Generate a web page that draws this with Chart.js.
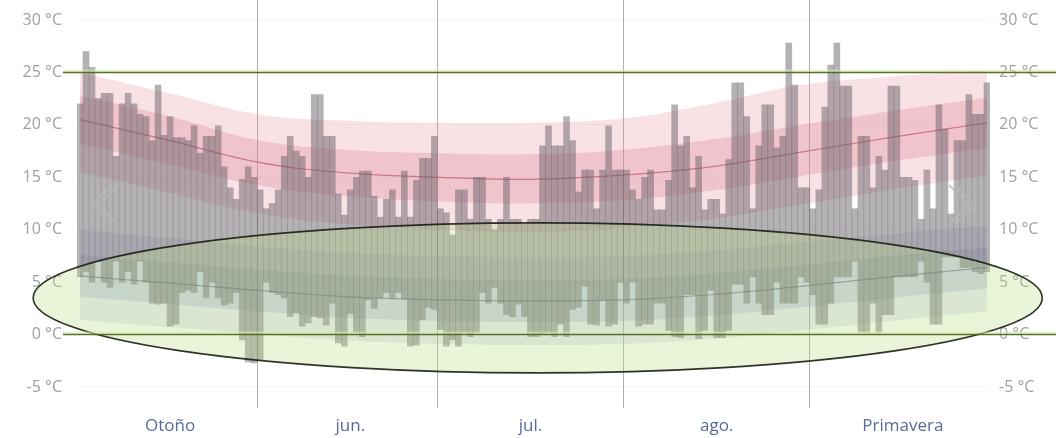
<!DOCTYPE html>
<html>
<head>
<meta charset="utf-8">
<script src="https://cdn.jsdelivr.net/npm/chart.js@4"></script>
<style>
  body { margin: 0; background: #fff; }
  #wrap { width: 1056px; height: 438px; }
</style>
</head>
<body>
<div id="wrap"><canvas id="chartTemp"></canvas></div>
<script>
// días del 2 de mayo al 30 de septiembre
var dias = [];
for (var d = new Date(2023, 4, 2); d <= new Date(2023, 8, 30); d.setDate(d.getDate() + 1)) {
  dias.push(d.getDate() + '/' + (d.getMonth() + 1));
}

var etiquetasMes = ['Otoño', 'jun.', 'jul.', 'ago.', 'Primavera'];
var posEtiquetaMes = [15, 45, 75, 106, 137];
var inicioMes = [30, 60, 91, 122];
var ticksY = [-5, 0, 5, 10, 15, 20, 25, 30];

// máximas y mínimas diarias (°C)
var maximas = [
  22, 27, 25.5, 22.5, 23, 23, 17, 22, 23, 22,
  21, 20.8, 18.5, 23.8, 19, 20.8, 18.8, 18.8, 18.5, 19.9,
  17.3, 18.9, 18.9, 19.9, 16, 14, 12.9, 14.8, 16, 15,
  13.8, 12, 12.5, 13.8, 17, 18.9, 17.5, 17, 15, 22.9,
  22.9, 18.9, 18.9, 13.4, 11.4, 13.8, 15, 15.6, 15.6, 13.2,
  11.2, 12.9, 13.8, 11.2, 15.6, 11.2, 14.7, 16.8, 16.8, 18.9,
  12, 11.6, 9.5, 13.8, 13.8, 11, 15, 15, 11, 10,
  11, 15, 11, 11, 10.5, 11, 11, 18, 19.9, 18,
  18, 20.8, 18.5, 13.6, 15.7, 15.7, 12, 15.7, 19.9, 15.7,
  15.7, 15.7, 13.8, 12.9, 15, 15.7, 11.9, 11.9, 14.7, 21.9,
  18, 18.9, 14, 17, 11.9, 12.9, 12.9, 11.5, 16.7, 24,
  24, 20.8, 12, 18, 21.9, 21.9, 17.8, 18.9, 27.8, 23.8,
  14, 14, 12, 13.8, 21.7, 25.7, 27.8, 23.7, 23.7, 12,
  18.9, 18.9, 14, 17, 15.7, 23.7, 23.7, 15, 15, 14.7,
  11, 15.7, 12, 21.9, 19.6, 11.5, 18.5, 18.5, 22.9, 21,
  21, 24
];
var minimas = [
  5.5, 6, 5, 7, 5, 4.5, 7, 5, 6, 4.8,
  7, 5, 3, 2.9, 3, 0.8, 1, 4, 4.2, 4,
  6, 3.5, 5, 3.5, 2.8, 3, 4, -0.5, -2.6, -2.7,
  -2.4, 5, 4, 3.8, 3.5, 1.7, 2.1, 0.8, 1.1, 1.7,
  1.6, 0.9, 3, -0.8, -1.1, 2, 0.2, -0.2, 3.3, 2.5,
  3.5, 4, 3.5, 4, 3.4, -1.1, -1, 1.4, 2.6, 2.4,
  0.5, -1.1, -0.5, -1.1, 0.2, -0.2, 0.2, 4, 3, 4.5,
  3, 1.9, 1.7, 2.9, 1.7, -0.2, -0.2, 0, 0.2, -0.2,
  1, -0.2, 2.4, 2.6, 4.6, 1, 0.9, 3.3, 0.8, 1,
  5, 3, 5, 0.8, 1, 1, 3, 3, 0.4, -0.2,
  -0.3, 3.8, 3.8, -0.4, 0.4, 4.2, -0.3, -0.3, 0.4, 4.8,
  4.8, 3, 5.5, 3, 1.9, 1.9, 5, 3, 3, 3,
  5.5, 5, 3.8, 1, 1, 3, 5.5, 5.5, 5.5, 7,
  0.2, 0.2, 3, 0.2, 1.9, 1.9, 5.5, 5.5, 5.5, 5.5,
  7, 5, 1, 1, 7.4, 7.4, 7.4, 6.4, 6.4, 6,
  5.8, 6
];

// bandas climáticas, leídas cada 15 días
var diasBanda = [0, 15, 30, 45, 60, 75, 90, 105, 120, 135, 151];
var maxExtSup = [25, 23, 21, 20.4, 20.2, 20.2, 20.6, 22, 23.8, 24.6, 25.2];
var maxIntSup = [22.8, 20.8, 18.5, 17.6, 17.3, 17.2, 17.6, 18.6, 20, 21.3, 22.6];
var maxMedia  = [20.5, 18.5, 16.4, 15.4, 15, 14.8, 15.2, 16, 17.4, 18.8, 20.2];
var maxIntInf = [18.2, 16.2, 14.2, 13.2, 12.7, 12.5, 12.8, 13.7, 15.1, 16.5, 17.8];
var maxExtInf = [15.5, 13.5, 11.5, 10.5, 10, 9.8, 10.2, 11, 12.4, 13.8, 15.2];
var minExtSup = [10, 9.2, 8.4, 7.8, 7.5, 7.4, 7.5, 8, 8.8, 9.6, 10.4];
var minIntSup = [7.6, 6.9, 6.2, 5.6, 5.3, 5.2, 5.3, 5.8, 6.6, 7.5, 8.3];
var minMedia  = [5.6, 4.9, 4.2, 3.6, 3.3, 3.2, 3.3, 3.8, 4.6, 5.5, 6.4];
var minIntInf = [3.6, 2.9, 2.2, 1.6, 1.3, 1.2, 1.3, 1.8, 2.6, 3.5, 4.4];
var minExtInf = [1.4, 0.7, 0, -0.6, -0.9, -1, -0.9, -0.4, 0.4, 1.3, 2.2];

var lineasRef = [25, 0];
var elipse = { diaCentro: 76.2, mediaDias: 84, tempCentro: 3.5, mediaTemp: 7.15 };

function banda(valores) {
  return valores.map(function (v, i) { return { x: dias[diasBanda[i]], y: v }; });
}
function capaBanda(valores, relleno, color, orden) {
  return {
    type: 'line', data: banda(valores),
    borderWidth: 0, pointRadius: 0, tension: 0.4,
    fill: relleno, backgroundColor: color, order: orden
  };
}
function sinRelleno(s) { s.paddingTop = 0; s.paddingBottom = 0; }

var overlay = {
  id: 'overlay',
  afterDatasetsDraw: function (chart) {
    var ctx = chart.ctx, x = chart.scales.x, y = chart.scales.y, area = chart.chartArea;
    var cx = x.getPixelForValue(elipse.diaCentro);
    var rx = x.getPixelForValue(elipse.diaCentro + elipse.mediaDias) - cx;
    var cy = y.getPixelForValue(elipse.tempCentro);
    var ry = y.getPixelForValue(elipse.tempCentro - elipse.mediaTemp) - cy;
    ctx.save();
    ctx.beginPath();
    ctx.ellipse(cx, cy, rx, ry, 0, 0, 2 * Math.PI);
    ctx.fillStyle = 'rgba(185,220,130,0.30)';
    ctx.fill();
    ctx.lineWidth = 1.6;
    ctx.strokeStyle = 'rgba(25,30,20,0.9)';
    ctx.stroke();

    lineasRef.forEach(function (v) {
      var py = y.getPixelForValue(v);
      ctx.beginPath();
      ctx.moveTo(area.left - 14, py - 1.5);
      ctx.lineTo(chart.width, py - 1.5);
      ctx.lineWidth = 3;
      ctx.strokeStyle = 'rgba(215,240,170,0.55)';
      ctx.stroke();
      ctx.beginPath();
      ctx.moveTo(area.left - 14, py);
      ctx.lineTo(chart.width, py);
      ctx.lineWidth = 1.4;
      ctx.strokeStyle = 'rgba(75,95,35,0.9)';
      ctx.stroke();
    });

    // flechas del carrusel
    ctx.lineWidth = 2;
    ctx.strokeStyle = 'rgba(185,185,185,0.75)';
    [[112, 92], [955, 975]].forEach(function (f) {
      [0, 6].forEach(function (o) {
        var s = f[1] > f[0] ? -o : o;
        ctx.beginPath();
        ctx.moveTo(f[0] + s, 185);
        ctx.lineTo(f[1] + s, 205);
        ctx.lineTo(f[0] + s, 225);
        ctx.stroke();
      });
    });
    ctx.restore();
  }
};

var ctxTemp = document.getElementById('chartTemp').getContext('2d');
var configTemp = {
  type: 'bar',
  data: {
    labels: dias,
    datasets: [
      {
        type: 'bar',
        label: 'Temperatura diaria',
        data: maximas.map(function (m, i) { return [minimas[i], m]; }),
        backgroundColor: 'rgba(100,95,100,0.48)',
        barPercentage: 1,
        categoryPercentage: 1,
        grouped: false,
        order: 0
      },
      capaBanda(maxExtSup, '+1', 'rgba(235,150,165,0.28)', 10),
      capaBanda(maxExtInf, false, 'transparent', 10),
      capaBanda(maxIntSup, '+1', 'rgba(220,120,140,0.28)', 9),
      capaBanda(maxIntInf, false, 'transparent', 9),
      {
        type: 'line', data: banda(maxMedia), order: 8,
        borderColor: 'rgba(170,60,75,0.55)', borderWidth: 1.2, pointRadius: 0, tension: 0.4, fill: false
      },
      capaBanda(minExtSup, '+1', 'rgba(150,160,210,0.22)', 10),
      capaBanda(minExtInf, false, 'transparent', 10),
      capaBanda(minIntSup, '+1', 'rgba(120,130,195,0.22)', 9),
      capaBanda(minIntInf, false, 'transparent', 9),
      {
        type: 'line', data: banda(minMedia), order: 8,
        borderColor: 'rgba(60,65,110,0.5)', borderWidth: 1.2, pointRadius: 0, tension: 0.4, fill: false
      }
    ]
  },
  options: {
    responsive: true,
    maintainAspectRatio: false,
    animation: false,
    layout: { padding: 0 },
    datasets: { bar: { barPercentage: 1, categoryPercentage: 1 } },
    plugins: { legend: { display: false }, tooltip: { enabled: false } },
    scales: {
      x: {
        type: 'category',
        offset: true,
        border: { display: false },
        afterFit: function (s) { s.height = 38; s.paddingLeft = 0; s.paddingRight = 0; },
        grid: {
          offset: true,
          tickLength: 8,
          lineWidth: 1,
          color: function (c) { return inicioMes.indexOf(c.index) >= 0 ? 'rgba(150,150,150,0.75)' : 'rgba(0,0,0,0)'; }
        },
        ticks: {
          autoSkip: false,
          maxRotation: 0,
          padding: 8,
          color: '#5a6a9c',
          font: { family: 'Open Sans', size: 17 },
          callback: function (v, i) {
            var k = posEtiquetaMes.indexOf(i);
            return k >= 0 ? etiquetasMes[k] : '';
          }
        }
      },
      y: {
        position: 'left',
        min: -6.24,
        max: 31.91,
        border: { display: false },
        grid: { color: 'rgba(0,0,0,0.04)', drawTicks: false },
        afterBuildTicks: function (s) { s.ticks = ticksY.map(function (v) { return { value: v }; }); },
        afterFit: function (s) { s.width = 77; sinRelleno(s); },
        ticks: {
          padding: 15,
          color: '#a0a0a0',
          font: { family: 'Open Sans', size: 16 },
          callback: function (v) { return v + ' °C'; }
        }
      },
      y2: {
        position: 'right',
        min: -6.24,
        max: 31.91,
        border: { display: false },
        grid: { display: false, drawTicks: false },
        afterBuildTicks: function (s) { s.ticks = ticksY.map(function (v) { return { value: v }; }); },
        afterFit: function (s) { s.width = 66; sinRelleno(s); },
        ticks: {
          padding: 9,
          color: '#a0a0a0',
          font: { family: 'Open Sans', size: 16 },
          callback: function (v) { return v + ' °C'; }
        }
      }
    }
  },
  plugins: [overlay]
};
var graficoTemp = new Chart(ctxTemp, configTemp);
</script>
</body>
</html>
